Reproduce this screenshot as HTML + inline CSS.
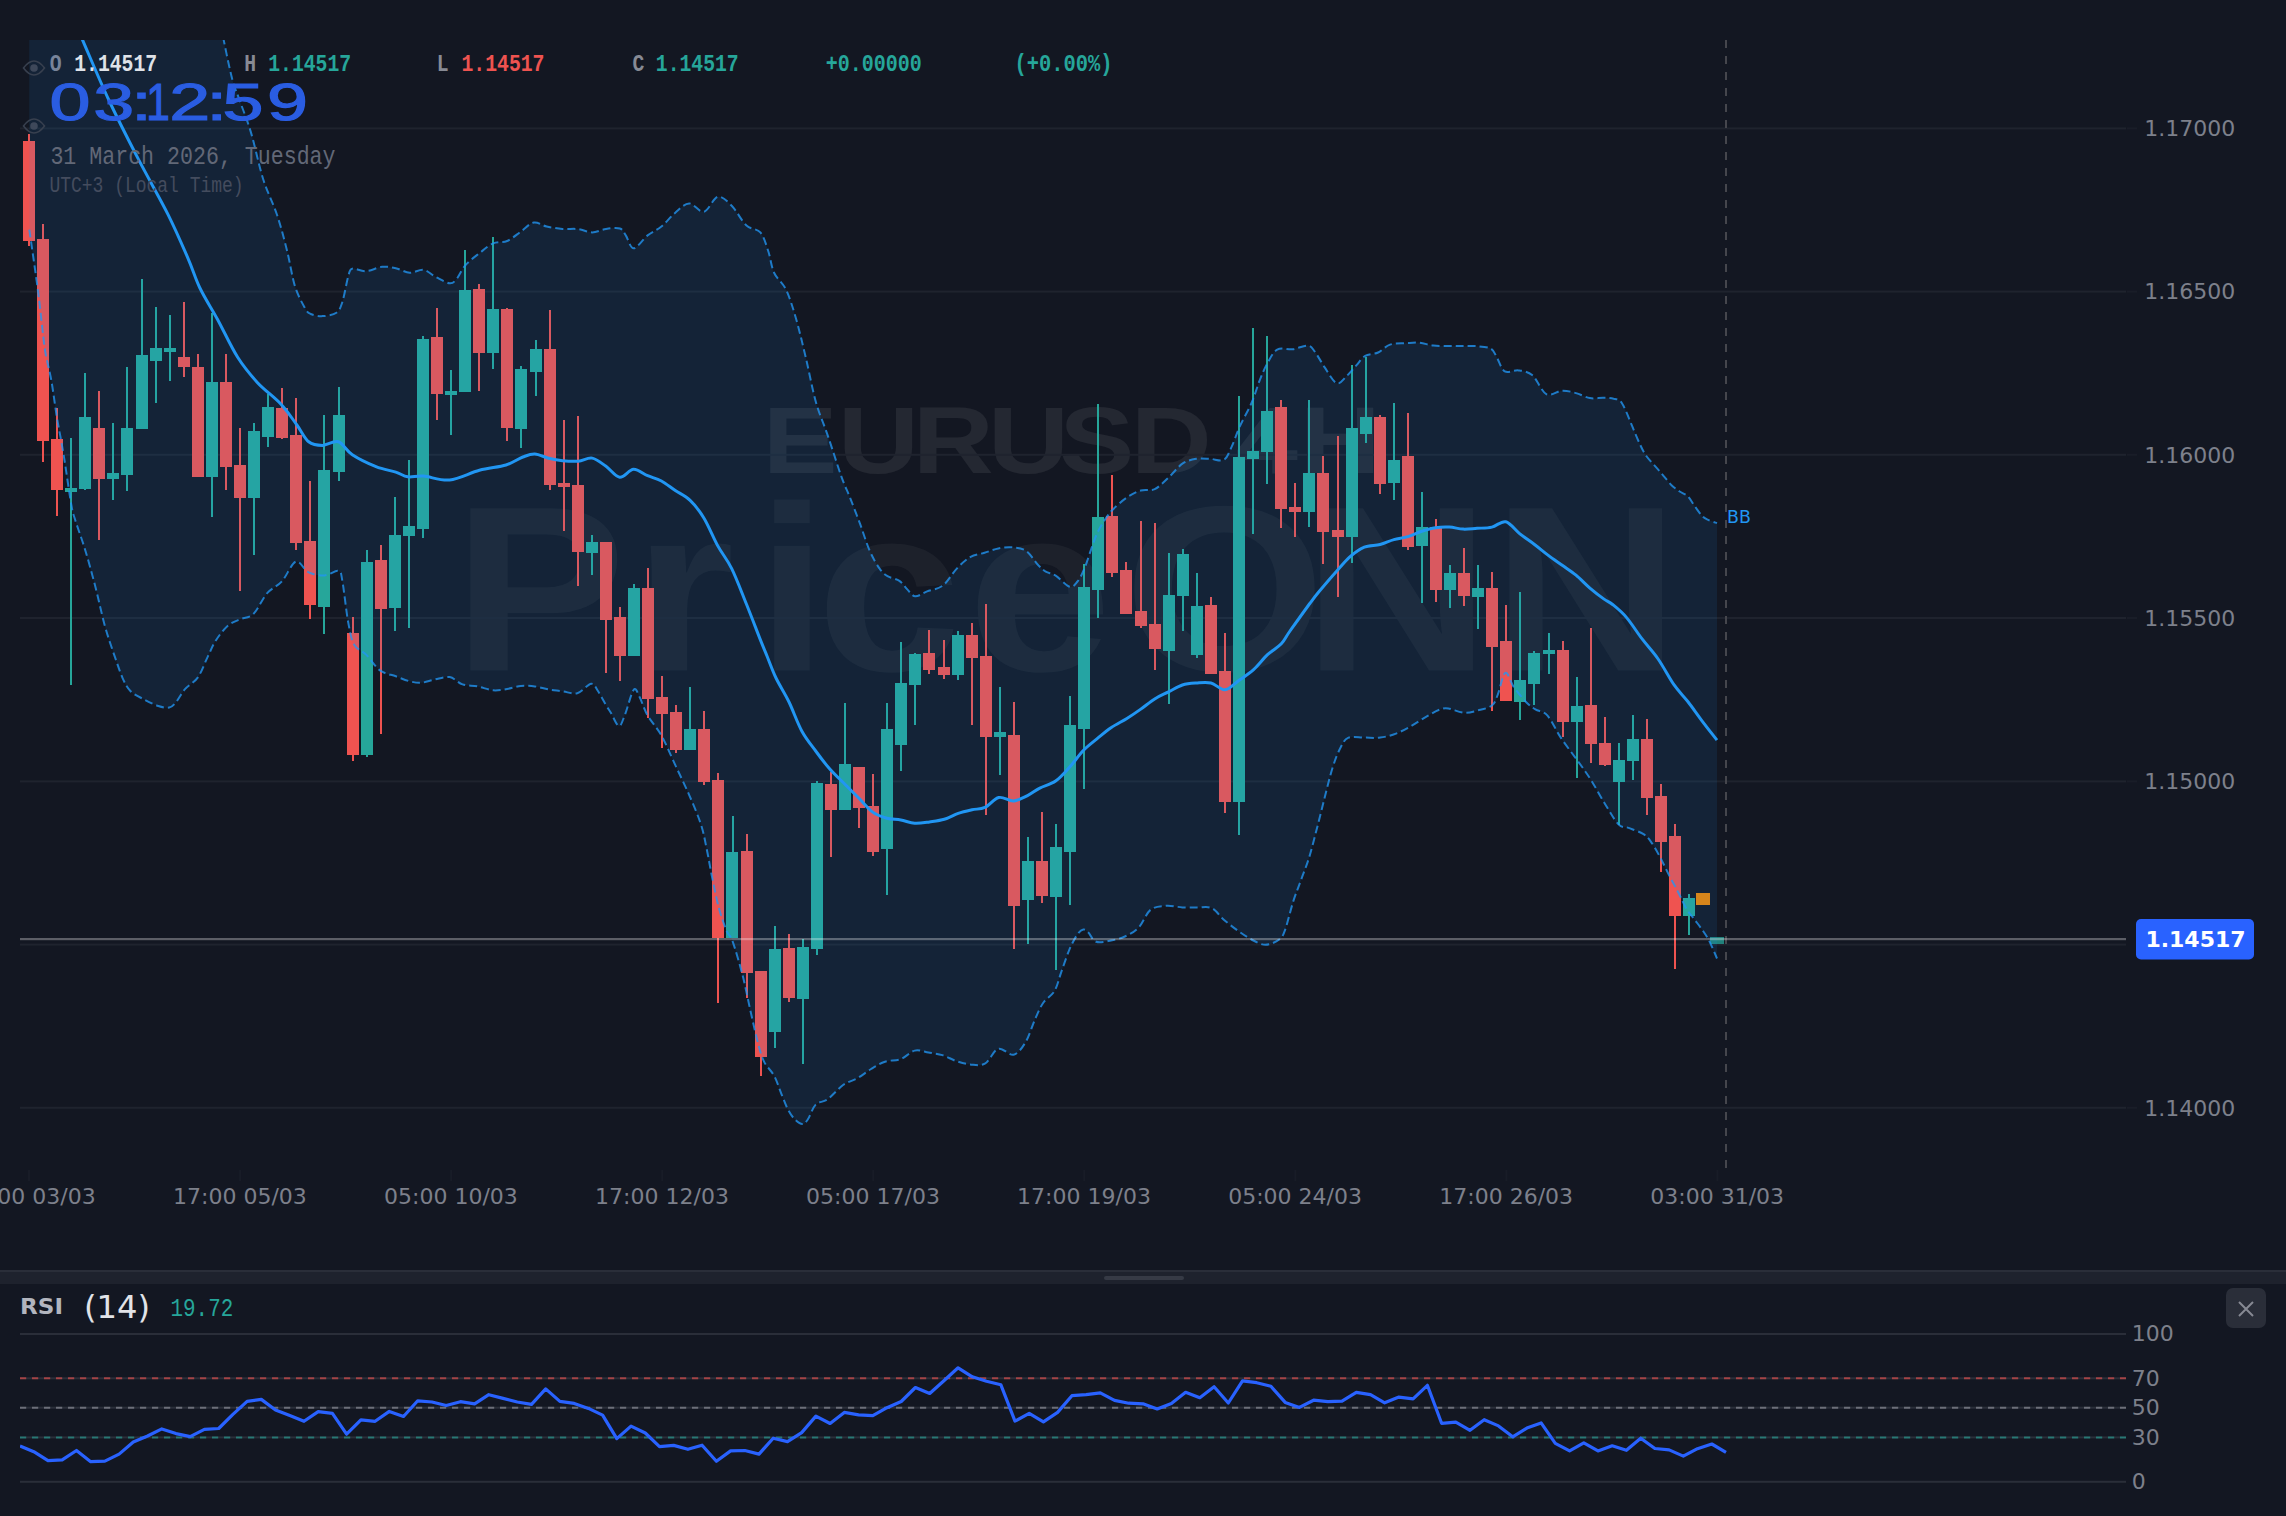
<!DOCTYPE html>
<html lang="en"><head><meta charset="utf-8"><title>EURUSD 4H</title>
<style>
html,body{margin:0;padding:0;background:#131722;overflow:hidden}
body{width:2286px;height:1516px;position:relative}
svg{position:absolute;left:0;top:0;display:block}
.ax{font-family:"DejaVu Sans","Liberation Sans",sans-serif;font-size:22px;fill:#7d808b}
.mono{font-family:"Liberation Mono","DejaVu Sans Mono",monospace;white-space:pre}
.sans{font-family:"Liberation Sans","DejaVu Sans",sans-serif}
.dv{font-family:"DejaVu Sans","Liberation Sans",sans-serif}
</style></head><body>
<svg width="2286" height="1516" viewBox="0 0 2286 1516">
<defs>
<clipPath id="pane"><rect x="20" y="40" width="2107" height="1130"/></clipPath>
<clipPath id="rsi"><rect x="20" y="1285" width="2107" height="231"/></clipPath>
</defs>
<rect x="0" y="0" width="2286" height="1516" fill="#131722"/>
<g clip-path="url(#pane)">
<text class="sans" transform="translate(0,472.5) scale(1.18,1)" x="646.4 710.2 773.6 837.3 897.9 958.3 1029.7 1047.1 1101.5" y="0" font-size="95" font-weight="700" fill="#ffffff" fill-opacity="0.075">EURUSD 4H</text>
<text class="sans" transform="translate(0,670.5) scale(1.1,1)" x="411.8 575.9 687.3 742.4 879.6 1021.5 1184.5 1356.4" y="0" font-size="236" font-weight="700" fill="#ffffff" fill-opacity="0.043">PriceONN</text>
<rect x="20" y="127.4" width="2106" height="2" fill="#1f232e"/>
<rect x="20" y="290.6" width="2106" height="2" fill="#1f232e"/>
<rect x="20" y="453.8" width="2106" height="2" fill="#1f232e"/>
<rect x="20" y="617" width="2106" height="2" fill="#1f232e"/>
<rect x="20" y="780.4" width="2106" height="2" fill="#1f232e"/>
<rect x="20" y="943.6" width="2106" height="2" fill="#1f232e"/>
<rect x="20" y="1106.8" width="2106" height="2" fill="#1f232e"/>
<g shape-rendering="crispEdges">
<rect x="28" y="134" width="2" height="111.5" fill="#ef5350"/>
<rect x="23" y="141" width="12" height="100" fill="#ef5350"/>
<rect x="42" y="224" width="2" height="238.2" fill="#ef5350"/>
<rect x="37" y="238.5" width="12" height="202.7" fill="#ef5350"/>
<rect x="56" y="407.6" width="2" height="108.4" fill="#ef5350"/>
<rect x="51" y="438.8" width="12" height="50.7" fill="#ef5350"/>
<rect x="70" y="438" width="2" height="246.9" fill="#26a69a"/>
<rect x="65" y="487.7" width="12" height="4.2" fill="#26a69a"/>
<rect x="84" y="373" width="2" height="117" fill="#26a69a"/>
<rect x="79" y="417.3" width="12" height="72" fill="#26a69a"/>
<rect x="98" y="391" width="2" height="149.4" fill="#ef5350"/>
<rect x="93" y="427.6" width="12" height="51.2" fill="#ef5350"/>
<rect x="112" y="423" width="2" height="76.8" fill="#26a69a"/>
<rect x="107" y="472.9" width="12" height="5.9" fill="#26a69a"/>
<rect x="126" y="366.8" width="2" height="124.5" fill="#26a69a"/>
<rect x="121" y="428" width="12" height="47" fill="#26a69a"/>
<rect x="141" y="279" width="2" height="150" fill="#26a69a"/>
<rect x="136" y="354.7" width="12" height="74.3" fill="#26a69a"/>
<rect x="155" y="306.8" width="2" height="96" fill="#26a69a"/>
<rect x="150" y="348.4" width="12" height="12.9" fill="#26a69a"/>
<rect x="169" y="314.7" width="2" height="66.2" fill="#26a69a"/>
<rect x="164" y="348.2" width="12" height="4" fill="#26a69a"/>
<rect x="183" y="302.3" width="2" height="74.5" fill="#ef5350"/>
<rect x="178" y="356.8" width="12" height="9.9" fill="#ef5350"/>
<rect x="197" y="353.8" width="2" height="122.8" fill="#ef5350"/>
<rect x="192" y="366.6" width="12" height="110" fill="#ef5350"/>
<rect x="211" y="312.7" width="2" height="204.7" fill="#26a69a"/>
<rect x="206" y="382" width="12" height="95.2" fill="#26a69a"/>
<rect x="225" y="354" width="2" height="135.9" fill="#ef5350"/>
<rect x="220" y="382.4" width="12" height="84.3" fill="#ef5350"/>
<rect x="239" y="428" width="2" height="163.4" fill="#ef5350"/>
<rect x="234" y="465.2" width="12" height="33" fill="#ef5350"/>
<rect x="253" y="423" width="2" height="132" fill="#26a69a"/>
<rect x="248" y="430.5" width="12" height="67.7" fill="#26a69a"/>
<rect x="267" y="394" width="2" height="52.8" fill="#26a69a"/>
<rect x="262" y="407.2" width="12" height="29.3" fill="#26a69a"/>
<rect x="281" y="387.9" width="2" height="50.9" fill="#ef5350"/>
<rect x="276" y="407.8" width="12" height="29.7" fill="#ef5350"/>
<rect x="295" y="398.3" width="2" height="151.2" fill="#ef5350"/>
<rect x="290" y="434.9" width="12" height="107.6" fill="#ef5350"/>
<rect x="309" y="481.4" width="2" height="137.4" fill="#ef5350"/>
<rect x="304" y="540.8" width="12" height="64.3" fill="#ef5350"/>
<rect x="323" y="415.1" width="2" height="218.7" fill="#26a69a"/>
<rect x="318" y="470.1" width="12" height="136.8" fill="#26a69a"/>
<rect x="338" y="387.2" width="2" height="93.6" fill="#26a69a"/>
<rect x="333" y="415.1" width="12" height="56.8" fill="#26a69a"/>
<rect x="352" y="616.7" width="2" height="144.7" fill="#ef5350"/>
<rect x="347" y="633.2" width="12" height="121.7" fill="#ef5350"/>
<rect x="366" y="550.2" width="2" height="206.7" fill="#26a69a"/>
<rect x="361" y="562" width="12" height="192.5" fill="#26a69a"/>
<rect x="380" y="545.3" width="2" height="188.4" fill="#ef5350"/>
<rect x="375" y="559.6" width="12" height="49" fill="#ef5350"/>
<rect x="394" y="497.2" width="2" height="133.6" fill="#26a69a"/>
<rect x="389" y="535.2" width="12" height="72.8" fill="#26a69a"/>
<rect x="408" y="459.6" width="2" height="168.8" fill="#26a69a"/>
<rect x="403" y="525.9" width="12" height="10.5" fill="#26a69a"/>
<rect x="422" y="336.2" width="2" height="202.2" fill="#26a69a"/>
<rect x="417" y="338.9" width="12" height="189.6" fill="#26a69a"/>
<rect x="436" y="308.3" width="2" height="111.4" fill="#ef5350"/>
<rect x="431" y="336.9" width="12" height="56.8" fill="#ef5350"/>
<rect x="450" y="370" width="2" height="64.9" fill="#26a69a"/>
<rect x="445" y="390.8" width="12" height="3.9" fill="#26a69a"/>
<rect x="464" y="249.9" width="2" height="141.9" fill="#26a69a"/>
<rect x="459" y="289.8" width="12" height="102" fill="#26a69a"/>
<rect x="478" y="283.9" width="2" height="106.9" fill="#ef5350"/>
<rect x="473" y="289.4" width="12" height="63.8" fill="#ef5350"/>
<rect x="492" y="237.4" width="2" height="131.6" fill="#26a69a"/>
<rect x="487" y="308.6" width="12" height="44" fill="#26a69a"/>
<rect x="506" y="307.6" width="2" height="133.2" fill="#ef5350"/>
<rect x="501" y="309" width="12" height="118.8" fill="#ef5350"/>
<rect x="520" y="366" width="2" height="82" fill="#26a69a"/>
<rect x="515" y="369" width="12" height="59.8" fill="#26a69a"/>
<rect x="535" y="339.9" width="2" height="56.4" fill="#26a69a"/>
<rect x="530" y="348.8" width="12" height="22.8" fill="#26a69a"/>
<rect x="549" y="309.6" width="2" height="180.3" fill="#ef5350"/>
<rect x="544" y="348.8" width="12" height="135.7" fill="#ef5350"/>
<rect x="563" y="419.9" width="2" height="111.5" fill="#ef5350"/>
<rect x="558" y="482.5" width="12" height="4" fill="#ef5350"/>
<rect x="577" y="415.9" width="2" height="170" fill="#ef5350"/>
<rect x="572" y="485.1" width="12" height="67.1" fill="#ef5350"/>
<rect x="591" y="535" width="2" height="40.2" fill="#26a69a"/>
<rect x="586" y="541.5" width="12" height="11.3" fill="#26a69a"/>
<rect x="605" y="541.9" width="2" height="131.1" fill="#ef5350"/>
<rect x="600" y="541.9" width="12" height="77.6" fill="#ef5350"/>
<rect x="619" y="606.6" width="2" height="74" fill="#ef5350"/>
<rect x="614" y="617.1" width="12" height="38.6" fill="#ef5350"/>
<rect x="633" y="584.1" width="2" height="72" fill="#26a69a"/>
<rect x="628" y="588" width="12" height="68.1" fill="#26a69a"/>
<rect x="647" y="567.6" width="2" height="149.9" fill="#ef5350"/>
<rect x="642" y="588.4" width="12" height="110.7" fill="#ef5350"/>
<rect x="661" y="676.2" width="2" height="71.5" fill="#ef5350"/>
<rect x="656" y="697.1" width="12" height="16.4" fill="#ef5350"/>
<rect x="675" y="705.1" width="2" height="47.5" fill="#ef5350"/>
<rect x="670" y="711.8" width="12" height="37.8" fill="#ef5350"/>
<rect x="689" y="687" width="2" height="62.6" fill="#26a69a"/>
<rect x="684" y="729.3" width="12" height="20.3" fill="#26a69a"/>
<rect x="703" y="711.3" width="2" height="73.4" fill="#ef5350"/>
<rect x="698" y="729" width="12" height="53.1" fill="#ef5350"/>
<rect x="717" y="773.2" width="2" height="230.1" fill="#ef5350"/>
<rect x="712" y="779.9" width="12" height="157.9" fill="#ef5350"/>
<rect x="732" y="816.3" width="2" height="121.2" fill="#26a69a"/>
<rect x="726" y="851.6" width="12" height="85.9" fill="#26a69a"/>
<rect x="746" y="833.6" width="2" height="164.5" fill="#ef5350"/>
<rect x="741" y="851.4" width="12" height="122" fill="#ef5350"/>
<rect x="760" y="970.6" width="2" height="105.3" fill="#ef5350"/>
<rect x="755" y="971.4" width="12" height="85.3" fill="#ef5350"/>
<rect x="774" y="926" width="2" height="121.6" fill="#26a69a"/>
<rect x="769" y="948.6" width="12" height="83.8" fill="#26a69a"/>
<rect x="788" y="934.3" width="2" height="67.4" fill="#ef5350"/>
<rect x="783" y="948.2" width="12" height="50.1" fill="#ef5350"/>
<rect x="802" y="939" width="2" height="125" fill="#26a69a"/>
<rect x="797" y="946.7" width="12" height="52.6" fill="#26a69a"/>
<rect x="816" y="781.1" width="2" height="173.7" fill="#26a69a"/>
<rect x="811" y="782.7" width="12" height="165.8" fill="#26a69a"/>
<rect x="830" y="772.4" width="2" height="84.5" fill="#ef5350"/>
<rect x="825" y="784.1" width="12" height="25.7" fill="#ef5350"/>
<rect x="844" y="703.3" width="2" height="106.5" fill="#26a69a"/>
<rect x="839" y="763.9" width="12" height="45.9" fill="#26a69a"/>
<rect x="858" y="767.1" width="2" height="61.1" fill="#ef5350"/>
<rect x="853" y="767.1" width="12" height="40.7" fill="#ef5350"/>
<rect x="872" y="774.4" width="2" height="81.5" fill="#ef5350"/>
<rect x="867" y="805.9" width="12" height="46.1" fill="#ef5350"/>
<rect x="886" y="703.1" width="2" height="192.1" fill="#26a69a"/>
<rect x="881" y="729" width="12" height="120" fill="#26a69a"/>
<rect x="900" y="641.9" width="2" height="129.3" fill="#26a69a"/>
<rect x="895" y="683.1" width="12" height="62" fill="#26a69a"/>
<rect x="914" y="652.7" width="2" height="71.9" fill="#26a69a"/>
<rect x="909" y="653.7" width="12" height="31.1" fill="#26a69a"/>
<rect x="928" y="629.6" width="2" height="44.3" fill="#ef5350"/>
<rect x="923" y="652.7" width="12" height="17" fill="#ef5350"/>
<rect x="943" y="640.3" width="2" height="38.8" fill="#ef5350"/>
<rect x="938" y="667" width="12" height="7.9" fill="#ef5350"/>
<rect x="957" y="631" width="2" height="48.5" fill="#26a69a"/>
<rect x="952" y="634.9" width="12" height="39.6" fill="#26a69a"/>
<rect x="971" y="623.1" width="2" height="101.9" fill="#ef5350"/>
<rect x="966" y="634.7" width="12" height="23.6" fill="#ef5350"/>
<rect x="985" y="603.7" width="2" height="211.1" fill="#ef5350"/>
<rect x="980" y="656.1" width="12" height="80.4" fill="#ef5350"/>
<rect x="999" y="687" width="2" height="88.4" fill="#26a69a"/>
<rect x="994" y="732.2" width="12" height="4.6" fill="#26a69a"/>
<rect x="1013" y="701.9" width="2" height="246.7" fill="#ef5350"/>
<rect x="1008" y="734.5" width="12" height="171.3" fill="#ef5350"/>
<rect x="1027" y="837.3" width="2" height="106.5" fill="#26a69a"/>
<rect x="1022" y="860.9" width="12" height="38.6" fill="#26a69a"/>
<rect x="1041" y="812.3" width="2" height="90.6" fill="#ef5350"/>
<rect x="1036" y="860.6" width="12" height="35.6" fill="#ef5350"/>
<rect x="1055" y="823.7" width="2" height="145.8" fill="#26a69a"/>
<rect x="1050" y="847.4" width="12" height="49.1" fill="#26a69a"/>
<rect x="1069" y="695.9" width="2" height="209.5" fill="#26a69a"/>
<rect x="1064" y="725" width="12" height="127" fill="#26a69a"/>
<rect x="1083" y="564.1" width="2" height="224.6" fill="#26a69a"/>
<rect x="1078" y="586.8" width="12" height="142" fill="#26a69a"/>
<rect x="1097" y="404.4" width="2" height="213.1" fill="#26a69a"/>
<rect x="1092" y="517.2" width="12" height="73.2" fill="#26a69a"/>
<rect x="1111" y="474.6" width="2" height="102.3" fill="#ef5350"/>
<rect x="1106" y="516.2" width="12" height="56.8" fill="#ef5350"/>
<rect x="1125" y="562.1" width="2" height="51.5" fill="#ef5350"/>
<rect x="1120" y="570" width="12" height="43.6" fill="#ef5350"/>
<rect x="1140" y="520.5" width="2" height="107.5" fill="#ef5350"/>
<rect x="1135" y="611.2" width="12" height="14.8" fill="#ef5350"/>
<rect x="1154" y="523.1" width="2" height="146.5" fill="#ef5350"/>
<rect x="1149" y="623.5" width="12" height="25.3" fill="#ef5350"/>
<rect x="1168" y="553.4" width="2" height="150.8" fill="#26a69a"/>
<rect x="1163" y="594.8" width="12" height="56.4" fill="#26a69a"/>
<rect x="1182" y="548.5" width="2" height="82.9" fill="#26a69a"/>
<rect x="1177" y="554.2" width="12" height="41.5" fill="#26a69a"/>
<rect x="1196" y="573" width="2" height="85.1" fill="#26a69a"/>
<rect x="1191" y="605.6" width="12" height="49.5" fill="#26a69a"/>
<rect x="1210" y="596.9" width="2" height="77" fill="#ef5350"/>
<rect x="1205" y="604.9" width="12" height="69" fill="#ef5350"/>
<rect x="1224" y="633" width="2" height="179.8" fill="#ef5350"/>
<rect x="1219" y="671" width="12" height="130.5" fill="#ef5350"/>
<rect x="1238" y="395.7" width="2" height="438.9" fill="#26a69a"/>
<rect x="1233" y="457.3" width="12" height="344.6" fill="#26a69a"/>
<rect x="1252" y="327.8" width="2" height="206" fill="#26a69a"/>
<rect x="1247" y="450.9" width="12" height="8.1" fill="#26a69a"/>
<rect x="1266" y="335.7" width="2" height="147.9" fill="#26a69a"/>
<rect x="1261" y="410.9" width="12" height="41.4" fill="#26a69a"/>
<rect x="1280" y="399.7" width="2" height="128.4" fill="#ef5350"/>
<rect x="1275" y="407.4" width="12" height="101.3" fill="#ef5350"/>
<rect x="1294" y="482.8" width="2" height="53.8" fill="#ef5350"/>
<rect x="1289" y="506.9" width="12" height="4.6" fill="#ef5350"/>
<rect x="1308" y="399.7" width="2" height="127" fill="#26a69a"/>
<rect x="1303" y="473.3" width="12" height="38.6" fill="#26a69a"/>
<rect x="1322" y="456.4" width="2" height="107.5" fill="#ef5350"/>
<rect x="1317" y="472.9" width="12" height="58.8" fill="#ef5350"/>
<rect x="1337" y="435.7" width="2" height="161.6" fill="#ef5350"/>
<rect x="1332" y="529.7" width="12" height="6.9" fill="#ef5350"/>
<rect x="1351" y="365.4" width="2" height="197.2" fill="#26a69a"/>
<rect x="1346" y="428.1" width="12" height="108.5" fill="#26a69a"/>
<rect x="1365" y="356.9" width="2" height="85.7" fill="#26a69a"/>
<rect x="1360" y="417.1" width="12" height="16.6" fill="#26a69a"/>
<rect x="1379" y="414.9" width="2" height="78.8" fill="#ef5350"/>
<rect x="1374" y="417.1" width="12" height="67.1" fill="#ef5350"/>
<rect x="1393" y="403.4" width="2" height="96.6" fill="#26a69a"/>
<rect x="1388" y="459.8" width="12" height="23" fill="#26a69a"/>
<rect x="1407" y="412.9" width="2" height="136.6" fill="#ef5350"/>
<rect x="1402" y="455.5" width="12" height="91" fill="#ef5350"/>
<rect x="1421" y="492.1" width="2" height="110.8" fill="#26a69a"/>
<rect x="1416" y="527.3" width="12" height="18.8" fill="#26a69a"/>
<rect x="1435" y="518.8" width="2" height="82.9" fill="#ef5350"/>
<rect x="1430" y="526.7" width="12" height="62.9" fill="#ef5350"/>
<rect x="1449" y="565.3" width="2" height="43.1" fill="#26a69a"/>
<rect x="1444" y="572.8" width="12" height="17.2" fill="#26a69a"/>
<rect x="1463" y="547.9" width="2" height="57.8" fill="#ef5350"/>
<rect x="1458" y="573.2" width="12" height="22.8" fill="#ef5350"/>
<rect x="1477" y="565" width="2" height="63.7" fill="#26a69a"/>
<rect x="1472" y="588.3" width="12" height="9" fill="#26a69a"/>
<rect x="1491" y="571.7" width="2" height="139.1" fill="#ef5350"/>
<rect x="1486" y="588.2" width="12" height="58.3" fill="#ef5350"/>
<rect x="1505" y="605.2" width="2" height="95.7" fill="#ef5350"/>
<rect x="1500" y="641.1" width="12" height="59.8" fill="#ef5350"/>
<rect x="1519" y="592.1" width="2" height="127.8" fill="#26a69a"/>
<rect x="1514" y="679.7" width="12" height="21.8" fill="#26a69a"/>
<rect x="1533" y="651" width="2" height="54.1" fill="#26a69a"/>
<rect x="1528" y="652.6" width="12" height="31.5" fill="#26a69a"/>
<rect x="1548" y="633.2" width="2" height="40.6" fill="#26a69a"/>
<rect x="1543" y="650.2" width="12" height="3.8" fill="#26a69a"/>
<rect x="1562" y="641.1" width="2" height="95.6" fill="#ef5350"/>
<rect x="1557" y="649.6" width="12" height="72.3" fill="#ef5350"/>
<rect x="1576" y="677.2" width="2" height="100.5" fill="#26a69a"/>
<rect x="1571" y="705.5" width="12" height="16.4" fill="#26a69a"/>
<rect x="1590" y="628.3" width="2" height="135.1" fill="#ef5350"/>
<rect x="1585" y="705.1" width="12" height="39.3" fill="#ef5350"/>
<rect x="1604" y="716.9" width="2" height="49.3" fill="#ef5350"/>
<rect x="1599" y="742.7" width="12" height="22.1" fill="#ef5350"/>
<rect x="1618" y="743.1" width="2" height="81.9" fill="#26a69a"/>
<rect x="1613" y="760.3" width="12" height="21.3" fill="#26a69a"/>
<rect x="1632" y="715.4" width="2" height="64.4" fill="#26a69a"/>
<rect x="1627" y="739.1" width="12" height="21.8" fill="#26a69a"/>
<rect x="1646" y="718.7" width="2" height="96" fill="#ef5350"/>
<rect x="1641" y="738.9" width="12" height="59.5" fill="#ef5350"/>
<rect x="1660" y="783.7" width="2" height="88.4" fill="#ef5350"/>
<rect x="1655" y="796" width="12" height="45.9" fill="#ef5350"/>
<rect x="1674" y="824" width="2" height="145" fill="#ef5350"/>
<rect x="1669" y="836.1" width="12" height="79.8" fill="#ef5350"/>
<rect x="1688" y="894.2" width="2" height="40.9" fill="#26a69a"/>
<rect x="1683" y="898.1" width="12" height="17.8" fill="#26a69a"/>
<rect x="1710" y="937" width="14" height="6.5" fill="#26a69a" fill-opacity="0.75"/>
</g>
<path d="M29,-600C49.2,-558.3 120.7,-436.7 150,-350C179.3,-263.3 194,-138.3 205,-80C216,-21.7 212.9,-20 216,0C219.1,20 221,26.8 223.7,40C226.4,53.2 229.6,69 232.2,79C234.8,89 236.3,90.9 239.5,100C242.7,109.1 247.4,120.4 251.3,133.6C255.2,146.8 258.9,165.7 263.2,179.2C267.5,192.7 273,202.9 277,214.8C281,226.7 284,238.5 287,250.4C290,262.3 291.9,276.4 294.9,286C297.9,295.6 302.2,303.1 304.8,307.8C307.4,312.5 307.7,312.6 310.7,314C313.7,315.4 318.3,316.3 322.6,316.1C326.9,315.9 333.1,315.1 336.4,312.7C339.7,310.3 340.4,308 342.4,301.9C344.4,295.8 346.6,281.7 348.3,276.1C350,270.6 349.3,269.4 352.3,268.6C355.3,267.8 361.2,271.5 366.1,271.2C371.1,270.9 377.1,267.3 382,266.8C386.9,266.3 391.2,267.2 395.8,268.2C400.4,269.2 405.1,272.5 409.7,272.8C414.3,273.1 419.1,269.1 423.5,269.8C427.9,270.5 431.4,274.8 435.8,277C440.2,279.2 446.2,283 449.7,283.3C453.2,283.6 454,282 456.6,279C459.2,276 461.7,269.4 465.5,265.1C469.3,260.8 474.8,256.8 479.4,253.2C484,249.6 488.6,245.3 493.2,243.3C497.8,241.3 502.5,243 507.1,241C511.7,239 516.5,234.6 520.9,231.5C525.3,228.4 529.5,223.3 533.8,222.5C538.1,221.7 541.9,225.4 546.7,226.5C551.5,227.6 557.2,228.5 562.5,228.9C567.8,229.3 573.3,228.5 578.3,229.1C583.2,229.7 587.6,232.4 592.2,232.4C596.8,232.4 601.4,229.6 606,228.9C610.6,228.2 616.6,227.4 619.9,228.5C623.2,229.6 623.5,232.1 625.8,235.4C628.1,238.7 630.1,248.3 633.7,248.3C637.3,248.3 643,239 647.6,235.4C652.2,231.8 656.8,230.3 661.4,226.5C666,222.7 670.7,216.5 675.3,212.7C679.9,208.8 684.3,203.6 689.1,203.4C693.9,203.2 699.2,212.8 704,211.7C708.8,210.6 713.2,197.8 717.8,196.8C722.4,195.8 726.9,200.9 731.7,205.7C736.5,210.5 741.7,221.1 746.5,225.5C751.3,229.9 756.8,228.1 760.4,232.4C764,236.7 766,244.4 768.3,251.2C770.6,258 771.2,266.6 774.2,273C777.2,279.4 782.5,282.2 786.1,289.8C789.7,297.4 792.7,307.1 796,318.5C799.3,329.9 802.6,344.2 805.9,358.1C809.2,372 812.2,388.8 815.8,401.7C819.4,414.6 823.4,422.8 827.7,435.3C832,447.8 837.8,466.5 841.5,476.9C845.2,487.2 846.9,489.7 849.9,497.4C852.9,505.1 856.5,514.2 859.8,523.1C863.1,532 866.4,543.2 869.7,550.8C873,558.4 876.6,564.4 879.6,568.6C882.6,572.8 884.2,574.2 887.5,576.2C890.8,578.2 896.1,578.7 899.4,580.9C902.7,583.1 904.7,586.8 907.3,589.4C909.9,592 911.9,596 915.2,596.3C918.5,596.6 922.5,593.2 927.1,591.4C931.7,589.6 938,589.3 942.9,585.5C947.8,581.7 952.2,573.4 956.8,568.6C961.4,563.8 966,559.4 970.6,556.8C975.2,554.2 979.9,554.2 984.5,552.8C989.1,551.4 993.7,549.3 998.3,548.4C1002.9,547.5 1007.6,546.9 1012.2,547.3C1016.8,547.7 1021.7,547.9 1026,550.8C1030.3,553.7 1034.6,561.2 1037.9,564.7C1041.2,568.2 1042.8,569.8 1045.8,571.6C1048.8,573.4 1051.7,573.1 1055.7,575.6C1059.7,578.1 1066,585.8 1069.6,586.8C1073.2,587.8 1075,584.5 1077.5,581.5C1080,578.5 1082.1,574.1 1084.4,568.6C1086.7,563.1 1089.2,554.7 1091.3,548.8C1093.4,542.9 1095,537.9 1097.3,533C1099.6,528.1 1102.6,523.2 1105.2,519.2C1107.8,515.2 1109.5,512.9 1113.1,509.3C1116.7,505.7 1122.4,500.5 1127,497.4C1131.6,494.3 1136.2,491.9 1140.8,490.5C1145.4,489.1 1150.1,491.2 1154.7,489.1C1159.3,487 1163.9,481.8 1168.5,477.6C1173.1,473.4 1177.8,466.8 1182.4,463.7C1187,460.6 1191.6,459.6 1196.2,458.8C1200.8,458 1205.5,458.6 1210.1,458.8C1214.7,459 1220.3,461.8 1223.9,459.8C1227.5,457.8 1229.1,452.1 1231.7,446.6C1234.3,441.1 1236.3,434.1 1239.6,426.8C1242.9,419.5 1248.2,410.6 1251.5,403C1254.8,395.4 1256.8,387.8 1259.4,381.2C1262,374.6 1264.3,368.7 1267.3,363.4C1270.3,358.1 1272.9,352 1277.2,349.6C1281.5,347.2 1287.9,349.9 1293,349.2C1298.1,348.5 1304.3,345.2 1307.9,345.6C1311.5,346 1312,348 1314.8,351.6C1317.6,355.2 1321.1,362.1 1324.7,367.4C1328.3,372.7 1333,381.7 1336.6,383.2C1340.2,384.7 1343.1,379.3 1346.4,376.3C1349.7,373.3 1353.2,368.8 1356.3,365.4C1359.4,362 1361.6,358 1365.2,355.9C1368.8,353.8 1374,354.4 1378.1,352.5C1382.2,350.6 1385.4,346.2 1390,344.6C1394.6,343.1 1400.8,343.5 1405.8,343.2C1410.8,342.9 1415.1,342.3 1419.7,342.7C1424.3,343.1 1428.5,345.1 1433.5,345.6C1438.5,346.2 1444.5,345.9 1449.4,346C1454.4,346.1 1458.6,346 1463.2,346C1467.8,346 1472.5,345.8 1477.1,346.2C1481.7,346.6 1487.6,346.7 1490.9,348.6C1494.2,350.5 1494.6,353.7 1496.9,357.5C1499.2,361.3 1501.2,369.2 1504.8,371.4C1508.4,373.5 1514,369.8 1518.6,370.4C1523.2,371 1527.9,371.4 1532.5,375.3C1537.1,379.2 1541.3,391.5 1546.3,394.1C1551.2,396.7 1557.2,390.9 1562.2,390.7C1567.2,390.5 1571.4,391.9 1576,393.1C1580.6,394.3 1585.4,397.3 1589.9,398.1C1594.4,398.9 1599.2,397.7 1603.2,397.8C1607.2,397.9 1610.9,398.1 1613.7,398.7C1616.5,399.2 1618.3,399.2 1620.3,401.1C1622.3,403 1623.6,406.1 1625.6,410.3C1627.6,414.5 1629.8,420.5 1632.2,426.2C1634.6,431.9 1637.7,439.6 1640.1,444.6C1642.5,449.7 1644,452.8 1646.7,456.5C1649.4,460.2 1653.1,463.8 1656,467.1C1658.9,470.4 1661.3,473.2 1663.9,476.3C1666.5,479.4 1669.2,483 1671.8,485.5C1674.4,488 1677.1,489.7 1679.7,491.5C1682.3,493.3 1685.2,493.8 1687.6,496.1C1690,498.4 1691.8,502 1694.2,505.3C1696.6,508.6 1699.7,513.4 1702.1,515.9C1704.5,518.4 1706.2,518.9 1708.7,520.1C1711.2,521.3 1715.6,522.6 1717,523.1L1717,958.5C1715.7,955.5 1711.5,945.4 1709.1,940.7C1706.7,936 1704.9,933.7 1702.5,930.2C1700.1,926.7 1697.2,923.1 1694.6,919.6C1691.9,916.1 1689.2,913.5 1686.6,909.1C1683.9,904.7 1681.5,898.7 1678.7,893.2C1675.9,887.7 1672.6,882 1669.5,876.1C1666.4,870.2 1663.4,863.3 1660.3,857.6C1657.2,851.9 1653.9,845.8 1651,841.8C1648.1,837.8 1646.8,836.2 1643.1,833.9C1639.4,831.6 1632.7,829.5 1628.6,827.9C1624.5,826.3 1622.5,828.5 1618.5,824.4C1614.5,820.3 1609.3,810.8 1604.7,803.4C1600.1,796 1595.4,787 1590.8,779.7C1586.2,772.5 1582,766.8 1577,759.9C1572,753 1566,745.5 1561.1,738.1C1556.1,730.7 1551.6,720.2 1547.3,715.4C1543,710.6 1539,711.7 1535.4,709.4C1531.8,707.1 1529.1,705.3 1525.5,701.5C1521.9,697.7 1517,691.5 1513.6,686.7C1510.2,681.9 1507.9,671.5 1505.3,672.8C1502.7,674.1 1500,689.1 1497.8,694.6C1495.6,700.1 1495.2,702.9 1491.9,705.5C1488.6,708.1 1482.6,709.2 1478,710.4C1473.4,711.6 1469.2,713.1 1464.2,712.8C1459.2,712.5 1452.3,708.9 1448.3,708.4C1444.3,707.9 1443.4,708.3 1440,709.5C1436.6,710.7 1432.4,713.1 1427.7,715.8C1423,718.5 1417.1,722.7 1411.8,725.7C1406.5,728.7 1401.3,731.6 1396,733.6C1390.7,735.6 1385.5,736.9 1380.2,737.6C1374.9,738.3 1369.6,737.6 1364.3,737.6C1359,737.6 1352.5,736 1348.5,737.6C1344.5,739.2 1343.2,742.5 1340.6,747.5C1338,752.5 1335.3,759 1332.7,767.3C1330.1,775.5 1327.4,786.8 1324.8,797C1322.2,807.2 1319.6,818.4 1316.9,828.6C1314.2,838.8 1311.6,849.7 1308.9,858.3C1306.2,866.9 1303.6,872.8 1301,880.1C1298.4,887.4 1295.7,893.6 1293.1,901.9C1290.5,910.1 1287.5,923.3 1285.2,929.6C1282.9,935.9 1282.5,937 1279.2,939.5C1275.9,942 1270,944.8 1265.4,944.8C1260.8,944.8 1256.1,941.9 1251.5,939.5C1246.9,937.1 1242.3,933.9 1237.7,930.6C1233.1,927.3 1228.1,923.4 1223.8,919.7C1219.5,916 1216.3,910.2 1212,908.2C1207.7,906.2 1203,907.5 1198.1,907.4C1193.1,907.3 1187.6,907.7 1182.3,907.4C1177,907.1 1171.7,905.4 1166.4,905.8C1161.1,906.2 1155.2,906.2 1150.6,909.8C1146,913.4 1143,923.1 1138.7,927.6C1134.4,932.1 1129.5,934.4 1124.9,936.5C1120.3,938.6 1115.8,939.6 1111,940.5C1106.2,941.4 1100,943.1 1096.2,941.8C1092.4,940.5 1090.5,934.5 1088.3,932.5C1086.1,930.5 1085.1,929.3 1083.3,929.6C1081.5,929.9 1079.7,931.2 1077.4,934.5C1075.1,937.8 1072.1,943.3 1069.5,949.4C1066.9,955.5 1064.1,964.2 1061.6,971.1C1059.1,978 1057.6,985.6 1054.6,990.9C1051.5,996.2 1046.5,998.1 1043.3,1002.7C1040.1,1007.3 1038.4,1011.9 1035.4,1018.5C1032.4,1025.1 1029.1,1036.3 1025.5,1042.3C1021.9,1048.3 1018.1,1053.6 1013.6,1054.7C1009.1,1055.8 1003,1047.3 998.2,1048.8C993.4,1050.3 989.6,1061.1 984.9,1063.7C980.2,1066.3 974.9,1064.8 970.1,1064.4C965.3,1064 960.8,1062.6 956.2,1061.1C951.6,1059.5 947,1056.5 942.4,1055.1C937.8,1053.7 933.1,1053.3 928.5,1052.6C923.9,1051.8 919.3,1049.5 914.7,1050.6C910.1,1051.7 905.8,1057.2 900.8,1059.1C895.8,1060.9 890,1060 885,1061.7C880,1063.4 875.7,1066.2 871.1,1069C866.5,1071.8 861.9,1075.7 857.3,1078.3C852.7,1080.9 848.3,1081.3 843.4,1084.8C838.5,1088.3 832.2,1096 827.6,1099.3C823,1102.6 819,1101.2 815.7,1104.6C812.4,1108 810,1116.3 807.8,1119.5C805.6,1122.7 804.4,1124 802.3,1124C800.1,1124 797.3,1121.9 794.9,1119.5C792.5,1117.1 790.1,1113.6 788,1109.6C785.9,1105.6 784.4,1101.3 782.1,1095.7C779.8,1090.1 777.2,1081.5 774.2,1075.9C771.2,1070.3 766.9,1067.4 764.3,1062.1C761.6,1056.8 760.6,1052.9 758.3,1044.3C756,1035.7 753,1022.1 750.4,1010.6C747.8,999.1 745.5,986.5 742.5,975C739.5,963.5 735.2,948.6 732.6,941.3C730,934 729,936.8 726.7,931.1C724.4,925.5 721.2,916.6 718.7,907.4C716.2,898.2 713.8,885.3 711.8,875.7C709.8,866.1 708.7,858.6 706.9,850C705.1,841.4 703.9,833.5 700.9,824.3C697.9,815.1 693.3,804.5 689,794.6C684.7,784.7 679.8,774.8 675.2,764.9C670.6,755 665.9,743.5 661.3,735.2C656.7,727 651.1,721.7 647.5,715.4C643.9,709.1 642,701.6 639.7,697.3C637.4,693 636.2,686.8 633.7,689.8C631.2,692.8 627.3,709.1 624.8,715.1C622.3,721.1 621.2,726.4 618.9,726C616.6,725.6 613.1,716.5 611,713C608.9,709.5 608.1,708.8 606,705.2C603.9,701.6 600.6,694.9 598.1,691.3C595.6,687.7 594.7,683.5 591.2,683.8C587.7,684.1 582.1,692 577.3,693.3C572.5,694.5 567.3,691.9 562.5,691.3C557.7,690.6 553.2,690.2 548.6,689.4C544,688.6 539.4,687 534.8,686.4C530.2,685.8 525.5,685.6 520.9,686C516.3,686.4 511.7,688.3 507.1,689C502.5,689.7 498.1,690.7 493.2,690.3C488.2,689.9 482.5,687.4 477.4,686.4C472.3,685.4 467.1,685.9 462.5,684.4C457.9,682.9 454.3,677.9 449.7,677.1C445.1,676.3 439.5,678.6 434.8,679.5C430.1,680.4 425.7,682.4 421.5,682.7C417.3,683 414,682.4 409.7,681.3C405.4,680.2 400.8,678.1 395.8,676.3C390.9,674.5 384.9,674 380,670.4C375.1,666.8 370.4,658.9 366.1,654.6C361.8,650.3 357.2,650 354.2,644.7C351.2,639.4 350.3,633.5 348.3,622.9C346.3,612.3 344,590 342.4,581.3C340.8,572.6 341.4,571.9 338.4,570.9C335.4,569.9 329.6,575.1 324.6,575.4C319.7,575.6 313.5,574.7 308.7,572.4C303.9,570.1 300.3,560.1 295.9,561.6C291.4,563.1 286.8,576 282,581.3C277.2,586.6 272,587.8 267.2,593.2C262.4,598.7 257.9,609.6 253.3,614C248.7,618.4 243.8,617.5 239.5,619.5C235.2,621.5 231.6,622.4 227.6,625.9C223.6,629.4 219,635.6 215.7,640.7C212.4,645.8 210.8,650.5 207.8,656.6C204.8,662.7 201.7,671.9 197.9,677.3C194.1,682.7 188.6,685.1 185,689.2C181.4,693.3 178.7,699 176.1,702.1C173.5,705.2 172.2,707 169.2,707.6C166.2,708.2 162.4,707.3 158.3,706C154.2,704.7 149.1,702.2 144.5,699.7C139.9,697.2 134.2,694.8 130.6,691.2C127,687.6 125.3,684.1 122.7,678.3C120.1,672.5 117.8,665.3 114.8,656.6C111.8,647.9 108.2,637.9 104.9,626C101.6,614.1 98.3,598 95,585.3C91.7,572.6 88.4,560.6 85.1,549.7C81.8,538.8 77.5,527.6 75.2,520C72.9,512.4 73.2,515.4 71.2,504.2C69.2,493 65.7,467.1 63.3,452.7C60.9,438.3 59,429.9 57,418C55,406.1 53.4,392.3 51.5,381.5C49.6,370.7 47,361.9 45.5,353.3C44,344.7 43.8,340.9 42.5,330C41.2,319.1 39.8,304.7 37.6,288C35.4,271.3 30.7,239.3 29.3,229.6Z" fill="#2196f3" fill-opacity="0.1"/>
<path d="M29,-600C49.2,-558.3 120.7,-436.7 150,-350C179.3,-263.3 194,-138.3 205,-80C216,-21.7 212.9,-20 216,0C219.1,20 221,26.8 223.7,40C226.4,53.2 229.6,69 232.2,79C234.8,89 236.3,90.9 239.5,100C242.7,109.1 247.4,120.4 251.3,133.6C255.2,146.8 258.9,165.7 263.2,179.2C267.5,192.7 273,202.9 277,214.8C281,226.7 284,238.5 287,250.4C290,262.3 291.9,276.4 294.9,286C297.9,295.6 302.2,303.1 304.8,307.8C307.4,312.5 307.7,312.6 310.7,314C313.7,315.4 318.3,316.3 322.6,316.1C326.9,315.9 333.1,315.1 336.4,312.7C339.7,310.3 340.4,308 342.4,301.9C344.4,295.8 346.6,281.7 348.3,276.1C350,270.6 349.3,269.4 352.3,268.6C355.3,267.8 361.2,271.5 366.1,271.2C371.1,270.9 377.1,267.3 382,266.8C386.9,266.3 391.2,267.2 395.8,268.2C400.4,269.2 405.1,272.5 409.7,272.8C414.3,273.1 419.1,269.1 423.5,269.8C427.9,270.5 431.4,274.8 435.8,277C440.2,279.2 446.2,283 449.7,283.3C453.2,283.6 454,282 456.6,279C459.2,276 461.7,269.4 465.5,265.1C469.3,260.8 474.8,256.8 479.4,253.2C484,249.6 488.6,245.3 493.2,243.3C497.8,241.3 502.5,243 507.1,241C511.7,239 516.5,234.6 520.9,231.5C525.3,228.4 529.5,223.3 533.8,222.5C538.1,221.7 541.9,225.4 546.7,226.5C551.5,227.6 557.2,228.5 562.5,228.9C567.8,229.3 573.3,228.5 578.3,229.1C583.2,229.7 587.6,232.4 592.2,232.4C596.8,232.4 601.4,229.6 606,228.9C610.6,228.2 616.6,227.4 619.9,228.5C623.2,229.6 623.5,232.1 625.8,235.4C628.1,238.7 630.1,248.3 633.7,248.3C637.3,248.3 643,239 647.6,235.4C652.2,231.8 656.8,230.3 661.4,226.5C666,222.7 670.7,216.5 675.3,212.7C679.9,208.8 684.3,203.6 689.1,203.4C693.9,203.2 699.2,212.8 704,211.7C708.8,210.6 713.2,197.8 717.8,196.8C722.4,195.8 726.9,200.9 731.7,205.7C736.5,210.5 741.7,221.1 746.5,225.5C751.3,229.9 756.8,228.1 760.4,232.4C764,236.7 766,244.4 768.3,251.2C770.6,258 771.2,266.6 774.2,273C777.2,279.4 782.5,282.2 786.1,289.8C789.7,297.4 792.7,307.1 796,318.5C799.3,329.9 802.6,344.2 805.9,358.1C809.2,372 812.2,388.8 815.8,401.7C819.4,414.6 823.4,422.8 827.7,435.3C832,447.8 837.8,466.5 841.5,476.9C845.2,487.2 846.9,489.7 849.9,497.4C852.9,505.1 856.5,514.2 859.8,523.1C863.1,532 866.4,543.2 869.7,550.8C873,558.4 876.6,564.4 879.6,568.6C882.6,572.8 884.2,574.2 887.5,576.2C890.8,578.2 896.1,578.7 899.4,580.9C902.7,583.1 904.7,586.8 907.3,589.4C909.9,592 911.9,596 915.2,596.3C918.5,596.6 922.5,593.2 927.1,591.4C931.7,589.6 938,589.3 942.9,585.5C947.8,581.7 952.2,573.4 956.8,568.6C961.4,563.8 966,559.4 970.6,556.8C975.2,554.2 979.9,554.2 984.5,552.8C989.1,551.4 993.7,549.3 998.3,548.4C1002.9,547.5 1007.6,546.9 1012.2,547.3C1016.8,547.7 1021.7,547.9 1026,550.8C1030.3,553.7 1034.6,561.2 1037.9,564.7C1041.2,568.2 1042.8,569.8 1045.8,571.6C1048.8,573.4 1051.7,573.1 1055.7,575.6C1059.7,578.1 1066,585.8 1069.6,586.8C1073.2,587.8 1075,584.5 1077.5,581.5C1080,578.5 1082.1,574.1 1084.4,568.6C1086.7,563.1 1089.2,554.7 1091.3,548.8C1093.4,542.9 1095,537.9 1097.3,533C1099.6,528.1 1102.6,523.2 1105.2,519.2C1107.8,515.2 1109.5,512.9 1113.1,509.3C1116.7,505.7 1122.4,500.5 1127,497.4C1131.6,494.3 1136.2,491.9 1140.8,490.5C1145.4,489.1 1150.1,491.2 1154.7,489.1C1159.3,487 1163.9,481.8 1168.5,477.6C1173.1,473.4 1177.8,466.8 1182.4,463.7C1187,460.6 1191.6,459.6 1196.2,458.8C1200.8,458 1205.5,458.6 1210.1,458.8C1214.7,459 1220.3,461.8 1223.9,459.8C1227.5,457.8 1229.1,452.1 1231.7,446.6C1234.3,441.1 1236.3,434.1 1239.6,426.8C1242.9,419.5 1248.2,410.6 1251.5,403C1254.8,395.4 1256.8,387.8 1259.4,381.2C1262,374.6 1264.3,368.7 1267.3,363.4C1270.3,358.1 1272.9,352 1277.2,349.6C1281.5,347.2 1287.9,349.9 1293,349.2C1298.1,348.5 1304.3,345.2 1307.9,345.6C1311.5,346 1312,348 1314.8,351.6C1317.6,355.2 1321.1,362.1 1324.7,367.4C1328.3,372.7 1333,381.7 1336.6,383.2C1340.2,384.7 1343.1,379.3 1346.4,376.3C1349.7,373.3 1353.2,368.8 1356.3,365.4C1359.4,362 1361.6,358 1365.2,355.9C1368.8,353.8 1374,354.4 1378.1,352.5C1382.2,350.6 1385.4,346.2 1390,344.6C1394.6,343.1 1400.8,343.5 1405.8,343.2C1410.8,342.9 1415.1,342.3 1419.7,342.7C1424.3,343.1 1428.5,345.1 1433.5,345.6C1438.5,346.2 1444.5,345.9 1449.4,346C1454.4,346.1 1458.6,346 1463.2,346C1467.8,346 1472.5,345.8 1477.1,346.2C1481.7,346.6 1487.6,346.7 1490.9,348.6C1494.2,350.5 1494.6,353.7 1496.9,357.5C1499.2,361.3 1501.2,369.2 1504.8,371.4C1508.4,373.5 1514,369.8 1518.6,370.4C1523.2,371 1527.9,371.4 1532.5,375.3C1537.1,379.2 1541.3,391.5 1546.3,394.1C1551.2,396.7 1557.2,390.9 1562.2,390.7C1567.2,390.5 1571.4,391.9 1576,393.1C1580.6,394.3 1585.4,397.3 1589.9,398.1C1594.4,398.9 1599.2,397.7 1603.2,397.8C1607.2,397.9 1610.9,398.1 1613.7,398.7C1616.5,399.2 1618.3,399.2 1620.3,401.1C1622.3,403 1623.6,406.1 1625.6,410.3C1627.6,414.5 1629.8,420.5 1632.2,426.2C1634.6,431.9 1637.7,439.6 1640.1,444.6C1642.5,449.7 1644,452.8 1646.7,456.5C1649.4,460.2 1653.1,463.8 1656,467.1C1658.9,470.4 1661.3,473.2 1663.9,476.3C1666.5,479.4 1669.2,483 1671.8,485.5C1674.4,488 1677.1,489.7 1679.7,491.5C1682.3,493.3 1685.2,493.8 1687.6,496.1C1690,498.4 1691.8,502 1694.2,505.3C1696.6,508.6 1699.7,513.4 1702.1,515.9C1704.5,518.4 1706.2,518.9 1708.7,520.1C1711.2,521.3 1715.6,522.6 1717,523.1" fill="none" stroke="#2196f3" stroke-opacity="0.78" stroke-width="2" stroke-dasharray="8 4"/>
<path d="M29.3,229.6C30.7,239.3 35.4,271.3 37.6,288C39.8,304.7 41.2,319.1 42.5,330C43.8,340.9 44,344.7 45.5,353.3C47,361.9 49.6,370.7 51.5,381.5C53.4,392.3 55,406.1 57,418C59,429.9 60.9,438.3 63.3,452.7C65.7,467.1 69.2,493 71.2,504.2C73.2,515.4 72.9,512.4 75.2,520C77.5,527.6 81.8,538.8 85.1,549.7C88.4,560.6 91.7,572.6 95,585.3C98.3,598 101.6,614.1 104.9,626C108.2,637.9 111.8,647.9 114.8,656.6C117.8,665.3 120.1,672.5 122.7,678.3C125.3,684.1 127,687.6 130.6,691.2C134.2,694.8 139.9,697.2 144.5,699.7C149.1,702.2 154.2,704.7 158.3,706C162.4,707.3 166.2,708.2 169.2,707.6C172.2,707 173.5,705.2 176.1,702.1C178.7,699 181.4,693.3 185,689.2C188.6,685.1 194.1,682.7 197.9,677.3C201.7,671.9 204.8,662.7 207.8,656.6C210.8,650.5 212.4,645.8 215.7,640.7C219,635.6 223.6,629.4 227.6,625.9C231.6,622.4 235.2,621.5 239.5,619.5C243.8,617.5 248.7,618.4 253.3,614C257.9,609.6 262.4,598.7 267.2,593.2C272,587.8 277.2,586.6 282,581.3C286.8,576 291.4,563.1 295.9,561.6C300.3,560.1 303.9,570.1 308.7,572.4C313.5,574.7 319.7,575.6 324.6,575.4C329.6,575.1 335.4,569.9 338.4,570.9C341.4,571.9 340.8,572.6 342.4,581.3C344,590 346.3,612.3 348.3,622.9C350.3,633.5 351.2,639.4 354.2,644.7C357.2,650 361.8,650.3 366.1,654.6C370.4,658.9 375.1,666.8 380,670.4C384.9,674 390.9,674.5 395.8,676.3C400.8,678.1 405.4,680.2 409.7,681.3C414,682.4 417.3,683 421.5,682.7C425.7,682.4 430.1,680.4 434.8,679.5C439.5,678.6 445.1,676.3 449.7,677.1C454.3,677.9 457.9,682.9 462.5,684.4C467.1,685.9 472.3,685.4 477.4,686.4C482.5,687.4 488.2,689.9 493.2,690.3C498.1,690.7 502.5,689.7 507.1,689C511.7,688.3 516.3,686.4 520.9,686C525.5,685.6 530.2,685.8 534.8,686.4C539.4,687 544,688.6 548.6,689.4C553.2,690.2 557.7,690.6 562.5,691.3C567.3,691.9 572.5,694.5 577.3,693.3C582.1,692 587.7,684.1 591.2,683.8C594.7,683.5 595.6,687.7 598.1,691.3C600.6,694.9 603.9,701.6 606,705.2C608.1,708.8 608.9,709.5 611,713C613.1,716.5 616.6,725.6 618.9,726C621.2,726.4 622.3,721.1 624.8,715.1C627.3,709.1 631.2,692.8 633.7,689.8C636.2,686.8 637.4,693 639.7,697.3C642,701.6 643.9,709.1 647.5,715.4C651.1,721.7 656.7,727 661.3,735.2C665.9,743.5 670.6,755 675.2,764.9C679.8,774.8 684.7,784.7 689,794.6C693.3,804.5 697.9,815.1 700.9,824.3C703.9,833.5 705.1,841.4 706.9,850C708.7,858.6 709.8,866.1 711.8,875.7C713.8,885.3 716.2,898.2 718.7,907.4C721.2,916.6 724.4,925.5 726.7,931.1C729,936.8 730,934 732.6,941.3C735.2,948.6 739.5,963.5 742.5,975C745.5,986.5 747.8,999.1 750.4,1010.6C753,1022.1 756,1035.7 758.3,1044.3C760.6,1052.9 761.6,1056.8 764.3,1062.1C766.9,1067.4 771.2,1070.3 774.2,1075.9C777.2,1081.5 779.8,1090.1 782.1,1095.7C784.4,1101.3 785.9,1105.6 788,1109.6C790.1,1113.6 792.5,1117.1 794.9,1119.5C797.3,1121.9 800.1,1124 802.3,1124C804.4,1124 805.6,1122.7 807.8,1119.5C810,1116.3 812.4,1108 815.7,1104.6C819,1101.2 823,1102.6 827.6,1099.3C832.2,1096 838.5,1088.3 843.4,1084.8C848.3,1081.3 852.7,1080.9 857.3,1078.3C861.9,1075.7 866.5,1071.8 871.1,1069C875.7,1066.2 880,1063.4 885,1061.7C890,1060 895.8,1060.9 900.8,1059.1C905.8,1057.2 910.1,1051.7 914.7,1050.6C919.3,1049.5 923.9,1051.8 928.5,1052.6C933.1,1053.3 937.8,1053.7 942.4,1055.1C947,1056.5 951.6,1059.5 956.2,1061.1C960.8,1062.6 965.3,1064 970.1,1064.4C974.9,1064.8 980.2,1066.3 984.9,1063.7C989.6,1061.1 993.4,1050.3 998.2,1048.8C1003,1047.3 1009.1,1055.8 1013.6,1054.7C1018.1,1053.6 1021.9,1048.3 1025.5,1042.3C1029.1,1036.3 1032.4,1025.1 1035.4,1018.5C1038.4,1011.9 1040.1,1007.3 1043.3,1002.7C1046.5,998.1 1051.5,996.2 1054.6,990.9C1057.6,985.6 1059.1,978 1061.6,971.1C1064.1,964.2 1066.9,955.5 1069.5,949.4C1072.1,943.3 1075.1,937.8 1077.4,934.5C1079.7,931.2 1081.5,929.9 1083.3,929.6C1085.1,929.3 1086.1,930.5 1088.3,932.5C1090.5,934.5 1092.4,940.5 1096.2,941.8C1100,943.1 1106.2,941.4 1111,940.5C1115.8,939.6 1120.3,938.6 1124.9,936.5C1129.5,934.4 1134.4,932.1 1138.7,927.6C1143,923.1 1146,913.4 1150.6,909.8C1155.2,906.2 1161.1,906.2 1166.4,905.8C1171.7,905.4 1177,907.1 1182.3,907.4C1187.6,907.7 1193.1,907.3 1198.1,907.4C1203,907.5 1207.7,906.2 1212,908.2C1216.3,910.2 1219.5,916 1223.8,919.7C1228.1,923.4 1233.1,927.3 1237.7,930.6C1242.3,933.9 1246.9,937.1 1251.5,939.5C1256.1,941.9 1260.8,944.8 1265.4,944.8C1270,944.8 1275.9,942 1279.2,939.5C1282.5,937 1282.9,935.9 1285.2,929.6C1287.5,923.3 1290.5,910.1 1293.1,901.9C1295.7,893.6 1298.4,887.4 1301,880.1C1303.6,872.8 1306.2,866.9 1308.9,858.3C1311.6,849.7 1314.2,838.8 1316.9,828.6C1319.6,818.4 1322.2,807.2 1324.8,797C1327.4,786.8 1330.1,775.5 1332.7,767.3C1335.3,759 1338,752.5 1340.6,747.5C1343.2,742.5 1344.5,739.2 1348.5,737.6C1352.5,736 1359,737.6 1364.3,737.6C1369.6,737.6 1374.9,738.3 1380.2,737.6C1385.5,736.9 1390.7,735.6 1396,733.6C1401.3,731.6 1406.5,728.7 1411.8,725.7C1417.1,722.7 1423,718.5 1427.7,715.8C1432.4,713.1 1436.6,710.7 1440,709.5C1443.4,708.3 1444.3,707.9 1448.3,708.4C1452.3,708.9 1459.2,712.5 1464.2,712.8C1469.2,713.1 1473.4,711.6 1478,710.4C1482.6,709.2 1488.6,708.1 1491.9,705.5C1495.2,702.9 1495.6,700.1 1497.8,694.6C1500,689.1 1502.7,674.1 1505.3,672.8C1507.9,671.5 1510.2,681.9 1513.6,686.7C1517,691.5 1521.9,697.7 1525.5,701.5C1529.1,705.3 1531.8,707.1 1535.4,709.4C1539,711.7 1543,710.6 1547.3,715.4C1551.6,720.2 1556.1,730.7 1561.1,738.1C1566,745.5 1572,753 1577,759.9C1582,766.8 1586.2,772.5 1590.8,779.7C1595.4,787 1600.1,796 1604.7,803.4C1609.3,810.8 1614.5,820.3 1618.5,824.4C1622.5,828.5 1624.5,826.3 1628.6,827.9C1632.7,829.5 1639.4,831.6 1643.1,833.9C1646.8,836.2 1648.1,837.8 1651,841.8C1653.9,845.8 1657.2,851.9 1660.3,857.6C1663.4,863.3 1666.4,870.2 1669.5,876.1C1672.6,882 1675.9,887.7 1678.7,893.2C1681.5,898.7 1683.9,904.7 1686.6,909.1C1689.2,913.5 1691.9,916.1 1694.6,919.6C1697.2,923.1 1700.1,926.7 1702.5,930.2C1704.9,933.7 1706.7,936 1709.1,940.7C1711.5,945.4 1715.7,955.5 1717,958.5" fill="none" stroke="#2196f3" stroke-opacity="0.78" stroke-width="2" stroke-dasharray="8 4"/>
<path d="M40,-60C43.7,-51.3 54.9,-24.7 62,-8C69.1,8.7 74.8,22.1 82.6,40.1C90.4,58.1 99.5,80.1 108.8,100C118.1,119.9 128.6,140.3 138.5,159.4C148.4,178.5 159.9,198.3 168.2,214.8C176.4,231.3 182.7,246.1 188,258.3C193.3,270.5 195,277.8 199.9,288C204.8,298.2 211.4,308.2 217.7,319.7C224,331.2 230.9,346.6 237.5,357C244.1,367.4 250.1,374.5 257.3,382.4C264.6,390.3 274.4,397.1 281,404.2C287.6,411.3 292.3,418.7 296.9,425C301.5,431.3 304.4,438.4 308.7,441.8C313,445.2 317.7,445.4 322.6,445.4C327.6,445.4 333.4,440.2 338.4,441.8C343.3,443.4 346,450.6 352.3,454.7C358.6,458.8 368.8,463.7 376,466.6C383.2,469.5 390.5,470.4 395.8,472.1C401.1,473.8 403.1,476.1 407.7,476.8C412.3,477.5 416.5,475.6 423.5,476.1C430.5,476.6 440.4,481 449.7,480C459,479 470,472.8 479.4,470.3C488.8,467.8 498.8,467.2 506,465C513.2,462.8 518.1,458.8 522.9,457C527.7,455.2 530.5,453.8 534.8,454C539.1,454.2 544,457.1 548.6,458.2C553.2,459.3 557.5,460.2 562.5,460.7C567.5,461.2 573.3,461.6 578.3,461.2C583.2,460.8 587.6,457.2 592.2,458.1C596.8,459 601.4,463.1 606,466.3C610.6,469.5 615.1,476.7 619.7,477.2C624.3,477.7 628.9,469.6 633.5,469.3C638.1,469.1 643,473.8 647.6,475.7C652.2,477.6 656.8,478.5 661.4,481C666,483.5 670.5,487.3 675.3,490.5C680.1,493.7 685.3,495.8 690.1,500.4C694.9,505 699.4,510.6 704,518.2C708.6,525.8 713.2,537.5 717.8,545.9C722.4,554.3 726.9,558.9 731.7,568.6C736.5,578.3 741.7,592.4 746.5,604.3C751.3,616.2 757,631.3 760.4,639.9C763.8,648.5 764.4,649.6 767,656C769.6,662.4 772.3,670.3 776,678C779.7,685.7 784.7,693.1 789,702C793.3,710.9 797.4,723 801.9,731.2C806.4,739.4 811.1,744.7 815.7,751C820.3,757.3 824.7,763.2 829.6,768.8C834.5,774.4 840.5,779.8 845.4,784.7C850.3,789.7 854.6,793.9 859.2,798.5C863.8,803.1 868.5,809.1 873.1,812.4C877.7,815.7 882.3,817 886.9,818.3C891.5,819.5 896.2,819.1 900.8,819.9C905.4,820.7 909.9,823 914.7,823.3C919.5,823.6 924.6,822.6 929.5,821.9C934.4,821.2 939.5,820.7 944.3,819.3C949.1,817.9 953.6,815 958.2,813.4C962.8,811.8 967.5,810.8 972,809.8C976.5,808.8 980.4,809.4 984.9,807.4C989.4,805.4 994,798.6 998.8,797.5C1003.6,796.4 1008.8,801.2 1013.6,800.9C1018.4,800.6 1023.1,797.7 1027.5,795.6C1031.9,793.5 1035.1,790.5 1039.8,788.1C1044.5,785.7 1050.6,784.6 1055.6,781.1C1060.5,777.6 1064.9,772.4 1069.5,767.3C1074.1,762.2 1078.7,755.3 1083.3,750.5C1087.9,745.7 1092.6,742.4 1097.2,738.6C1101.8,734.8 1106,731.1 1111,727.7C1116,724.3 1121.9,721.5 1126.9,718.4C1131.9,715.3 1136.2,712.4 1140.8,709.1C1145.4,705.9 1150.1,701.8 1154.7,698.9C1159.3,696 1163.9,694.2 1168.5,691.9C1173.1,689.6 1177.8,686.5 1182.4,685C1187,683.5 1191.4,683.3 1196.2,683C1201,682.7 1206.2,681.9 1211,683C1215.8,684.1 1220.3,690.2 1224.9,689.8C1229.5,689.4 1234,683.9 1238.8,680.5C1243.6,677.1 1248.8,673.9 1253.6,669.6C1258.4,665.3 1262.9,659 1267.5,654.7C1272.1,650.4 1277.5,647.8 1281.3,643.8C1285,639.8 1285.2,637.7 1290,631C1294.8,624.3 1305,610 1309.8,603.5C1314.6,597 1314.2,597.4 1318.7,592C1323.2,586.6 1331.3,577.1 1336.6,571.2C1341.9,565.3 1345.8,560.4 1350.4,556.4C1355,552.4 1359.3,549.1 1364.3,547.1C1369.2,545.1 1375.2,545.8 1380.1,544.5C1385,543.2 1389.3,540.9 1393.9,539.6C1398.5,538.3 1403.2,538 1407.8,536.6C1412.4,535.2 1417.1,532.8 1421.7,531.3C1426.3,529.8 1430.9,528.4 1435.5,527.7C1440.1,527 1444.8,526.9 1449.4,527.1C1454,527.3 1458.6,528.9 1463.2,529.1C1467.8,529.3 1472.3,528.6 1477.1,528.3C1481.9,528 1487.1,528.2 1491.9,527.1C1496.7,526 1501.2,520.7 1505.8,521.8C1510.4,522.9 1514.8,529.8 1519.6,533.6C1524.4,537.4 1529.7,540.9 1534.5,544.5C1539.3,548.1 1543.7,551.9 1548.3,555.4C1552.9,558.9 1557.6,562 1562.2,565.3C1566.8,568.6 1571.4,571.4 1576,575.2C1580.6,579 1585.3,584.2 1589.9,588.1C1594.5,592 1599.9,596.2 1603.7,598.9C1607.5,601.6 1608.8,601.4 1612.6,604.5C1616.4,607.6 1621.5,611.6 1626.4,617.4C1631.4,623.2 1637,632.3 1642.3,639.2C1647.6,646.1 1652.8,651.4 1658.1,659C1663.4,666.6 1669,677.6 1673.9,684.7C1678.9,691.8 1683.2,695.6 1687.8,701.5C1692.4,707.4 1696.8,713.9 1701.6,720.3C1706.4,726.7 1714.4,736.8 1716.9,740.1" fill="none" stroke="#2196f3" stroke-width="3" stroke-linejoin="round"/>
<rect x="1696" y="893" width="14" height="12" fill="#d6851b" shape-rendering="crispEdges"/>
<line x1="1726" y1="40" x2="1726" y2="1170" stroke="#45464d" stroke-width="2" stroke-dasharray="8 8"/>
</g>
<rect x="20" y="938" width="2106" height="2.2" fill="#ffffff" fill-opacity="0.31"/>
<text class="dv" x="1727" y="522.7" font-size="17.4" fill="#2196f3">BB</text>
<rect x="2127" y="127.4" width="10" height="2" fill="#191d28"/>
<text class="ax" x="2144.2" y="136.2">1.17000</text>
<rect x="2127" y="290.6" width="10" height="2" fill="#191d28"/>
<text class="ax" x="2144.2" y="299.4">1.16500</text>
<rect x="2127" y="453.8" width="10" height="2" fill="#191d28"/>
<text class="ax" x="2144.2" y="462.6">1.16000</text>
<rect x="2127" y="617" width="10" height="2" fill="#191d28"/>
<text class="ax" x="2144.2" y="625.8">1.15500</text>
<rect x="2127" y="780.4" width="10" height="2" fill="#191d28"/>
<text class="ax" x="2144.2" y="789.2">1.15000</text>
<rect x="2127" y="1106.8" width="10" height="2" fill="#191d28"/>
<text class="ax" x="2144.2" y="1115.6">1.14000</text>
<rect x="2136" y="919" width="118" height="40.5" rx="5" ry="5" fill="#2962ff"/>
<text class="dv" x="2145.4" y="947.2" font-size="22" font-weight="700" fill="#ffffff">1.14517</text>
<rect x="28" y="1170" width="2" height="11" fill="#181c27"/>
<text class="ax" x="28.8" y="1204.2" text-anchor="middle">05:00 03/03</text>
<rect x="239.1" y="1170" width="2" height="11" fill="#181c27"/>
<text class="ax" x="239.9" y="1204.2" text-anchor="middle">17:00 05/03</text>
<rect x="450.1" y="1170" width="2" height="11" fill="#181c27"/>
<text class="ax" x="450.9" y="1204.2" text-anchor="middle">05:00 10/03</text>
<rect x="661.2" y="1170" width="2" height="11" fill="#181c27"/>
<text class="ax" x="662" y="1204.2" text-anchor="middle">17:00 12/03</text>
<rect x="872.2" y="1170" width="2" height="11" fill="#181c27"/>
<text class="ax" x="873" y="1204.2" text-anchor="middle">05:00 17/03</text>
<rect x="1083.2" y="1170" width="2" height="11" fill="#181c27"/>
<text class="ax" x="1084" y="1204.2" text-anchor="middle">17:00 19/03</text>
<rect x="1294.3" y="1170" width="2" height="11" fill="#181c27"/>
<text class="ax" x="1295.1" y="1204.2" text-anchor="middle">05:00 24/03</text>
<rect x="1505.4" y="1170" width="2" height="11" fill="#181c27"/>
<text class="ax" x="1506.2" y="1204.2" text-anchor="middle">17:00 26/03</text>
<rect x="1716.4" y="1170" width="2" height="11" fill="#181c27"/>
<text class="ax" x="1717.2" y="1204.2" text-anchor="middle">03:00 31/03</text>
<text class="mono" transform="translate(49.8,70.7) scale(0.8297,1)" font-size="23.8" font-weight="700" fill="#78849a">O</text>
<text class="mono" transform="translate(74.2,70.7) scale(0.8297,1)" font-size="23.8" font-weight="700" fill="#dfe2e8">1.14517</text>
<text class="mono" transform="translate(244.2,70.7) scale(0.8297,1)" font-size="23.8" font-weight="700" fill="#878a94">H</text>
<text class="mono" transform="translate(268.2,70.7) scale(0.8297,1)" font-size="23.8" font-weight="700" fill="#26a69a">1.14517</text>
<text class="mono" transform="translate(436.8,70.7) scale(0.8297,1)" font-size="23.8" font-weight="700" fill="#878a94">L</text>
<text class="mono" transform="translate(461.5,70.7) scale(0.8297,1)" font-size="23.8" font-weight="700" fill="#ef5350">1.14517</text>
<text class="mono" transform="translate(632.6,70.7) scale(0.8297,1)" font-size="23.8" font-weight="700" fill="#878a94">C</text>
<text class="mono" transform="translate(655.8,70.7) scale(0.8297,1)" font-size="23.8" font-weight="700" fill="#26a69a">1.14517</text>
<text class="mono" transform="translate(825.7,70.7) scale(0.8402,1)" font-size="23.8" font-weight="700" fill="#26a69a">+0.00000</text>
<text class="mono" transform="translate(1014.6,70.7) scale(0.8577,1)" font-size="23.8" font-weight="700" fill="#26a69a">(+0.00%)</text>
<g fill="none" stroke="#38404f" stroke-width="1.6">
<path d="M23.5,68 Q34,54 44.5,68 Q34,82 23.5,68Z"/>
<circle cx="34" cy="68" r="3.8" fill="#3e485a" stroke="none"/>
</g>
<g fill="none" stroke="#38404f" stroke-width="1.6">
<path d="M23.5,126 Q34,112 44.5,126 Q34,140 23.5,126Z"/>
<circle cx="34" cy="126" r="3.8" fill="#3e485a" stroke="none"/>
</g>
<text class="sans" transform="translate(0,120) scale(1.43,1)" y="0" font-size="51.5" font-weight="400" fill="#2a5de2" stroke="#2a5de2" stroke-width="1.1"><tspan x="34.6 65.3 91.8">03:</tspan><tspan x="102.3" textLength="16.5" lengthAdjust="spacingAndGlyphs">1</tspan><tspan x="118.4 144.4 155.6 186.8">2:59</tspan></text>
<text class="mono" transform="translate(50.4,164.3) scale(0.8639,1)" font-size="25" font-weight="400" fill="#626877">31 March 2026, Tuesday</text>
<text class="mono" transform="translate(49.4,192) scale(0.8449,1)" font-size="21.3" font-weight="400" fill="#444c5e">UTC+3 (Local Time)</text>
<rect x="0" y="1270" width="2286" height="14" fill="#1e222d"/>
<rect x="0" y="1270" width="2286" height="2" fill="#2a2e39"/>
<rect x="1104" y="1276" width="80" height="4" rx="2" ry="2" fill="#363a45"/>
<text class="dv" x="20" y="1313.8" font-size="21.8" font-weight="700" fill="#b2b5be" textLength="43" lengthAdjust="spacingAndGlyphs">RSI</text>
<text class="dv" x="84" y="1317.6" font-size="32.2" fill="#e1e3e8">(14)</text>
<text class="mono" transform="translate(170.5,1316.2) scale(0.8299,1)" font-size="25.2" font-weight="400" fill="#26a69a">19.72</text>
<rect x="20" y="1333" width="2106" height="2" fill="#2a2e39"/>
<rect x="20" y="1377.3" width="2106" height="2" fill="#2a2e39"/>
<line x1="20" y1="1378.3" x2="2126" y2="1378.3" stroke="#ef5350" stroke-opacity="0.62" stroke-width="2" stroke-dasharray="6.2 5.8"/>
<rect x="20" y="1406.7" width="2106" height="2" fill="#2a2e39"/>
<line x1="20" y1="1407.7" x2="2126" y2="1407.7" stroke="#9598a1" stroke-opacity="0.62" stroke-width="2" stroke-dasharray="6.2 5.8"/>
<rect x="20" y="1436.4" width="2106" height="2" fill="#2a2e39"/>
<line x1="20" y1="1437.4" x2="2126" y2="1437.4" stroke="#26a69a" stroke-opacity="0.62" stroke-width="2" stroke-dasharray="6.2 5.8"/>
<rect x="20" y="1480.8" width="2106" height="2" fill="#2a2e39"/>
<text class="ax" x="2131.8" y="1341.2">100</text>
<text class="ax" x="2131.8" y="1385.5">70</text>
<text class="ax" x="2131.8" y="1414.9">50</text>
<text class="ax" x="2131.8" y="1444.6">30</text>
<text class="ax" x="2131.8" y="1489">0</text>
<polyline clip-path="url(#rsi)" points="20,1446 33.8,1451.7 48,1460.7 62.2,1459.9 76.5,1450.5 90.7,1461.7 104.9,1461.1 119.1,1454.1 133.3,1442 147.6,1436 161.8,1428.9 176,1433.6 190.2,1436.6 204.4,1429.3 218.7,1428.5 232.9,1414.4 247.1,1401.4 261.3,1399.4 275.5,1410 289.8,1415.5 304,1421.3 318.2,1411.6 332.4,1413.4 346.6,1434.2 360.9,1419.9 375.1,1421.3 389.3,1411.4 403.5,1416.5 417.7,1400.8 432,1402 446.2,1405.5 460.4,1401.7 474.6,1403.8 488.8,1394.7 503.1,1398.4 517.3,1402 531.5,1404.4 545.7,1388.9 559.9,1401.4 574.2,1403.4 588.4,1408.4 602.6,1415.1 616.8,1438.6 631,1426.1 645.3,1433 659.5,1446.6 673.7,1445.4 687.9,1449.3 702.1,1445.2 716.4,1461.3 730.6,1450.9 744.8,1450.5 759,1454.1 773.2,1438.2 787.5,1441.6 801.7,1432.6 815.9,1416.1 830.1,1423.5 844.3,1412.4 858.6,1414.8 872.8,1415.7 887,1407.7 901.2,1401.5 915.4,1387.5 929.7,1393.5 943.9,1380.8 958.1,1367.8 972.3,1376.8 986.5,1381.2 1000.8,1384.7 1015,1421.1 1029.2,1413.4 1043.4,1421.9 1057.6,1412.4 1071.9,1395.7 1086.1,1394.7 1100.3,1392.9 1114.5,1400.4 1128.7,1403.2 1143,1403.8 1157.2,1409 1171.4,1403.4 1185.6,1392.3 1199.8,1397.7 1214.1,1386.7 1228.3,1403 1242.5,1380.8 1256.7,1382.7 1270.9,1386.3 1285.2,1402.4 1299.4,1407.4 1313.6,1400.2 1327.8,1401.7 1342,1401.1 1356.3,1392.3 1370.5,1394.7 1384.7,1402.8 1398.9,1397.1 1413.1,1398.8 1427.4,1385.3 1441.6,1423.3 1455.8,1422.1 1470,1430.3 1484.2,1419.7 1498.5,1425.9 1512.7,1436.8 1526.9,1428.1 1541.1,1422.9 1555.3,1443.4 1569.6,1450.9 1583.8,1442.8 1598,1450.9 1612.2,1445.8 1626.4,1450.3 1640.7,1438.2 1654.9,1448.5 1669.1,1449.9 1683.3,1456.1 1697.5,1448.7 1711.8,1444 1726,1452.3" fill="none" stroke="#2962ff" stroke-width="3.2" stroke-linejoin="round" stroke-linecap="butt"/>
<rect x="2226" y="1288" width="40" height="40" rx="7" ry="7" fill="#2a2e39"/>
<path d="M2239,1302 L2253,1316 M2253,1302 L2239,1316" stroke="#868993" stroke-width="2" fill="none"/>
</svg>
</body></html>
